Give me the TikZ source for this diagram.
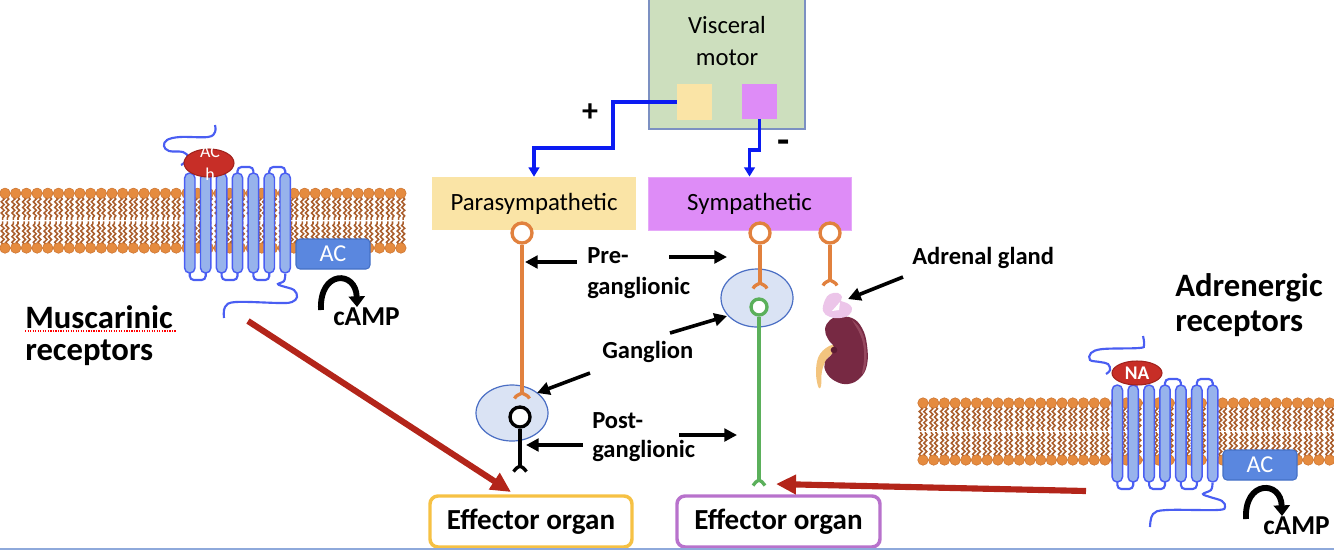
\documentclass[tikz,border=0pt]{standalone}
\usepackage{fontspec}
\setmainfont{Carlito}
\usetikzlibrary{arrows.meta,decorations.pathmorphing,shapes.geometric,calc}
\definecolor{vmgreen}{HTML}{CDDFBE}
\definecolor{vmborder}{HTML}{7C90C2}
\definecolor{paray}{HTML}{FAE4A6}
\definecolor{sympp}{HTML}{DE8CF7}
\definecolor{bluecon}{HTML}{0B1BF2}
\definecolor{neuror}{HTML}{E1813E}
\definecolor{neurog}{HTML}{5BB05B}
\definecolor{gangfill}{HTML}{DAE3F4}
\definecolor{gangdraw}{HTML}{4A6EC4}
\definecolor{effy}{HTML}{F6C144}
\definecolor{effp}{HTML}{B872CC}
\definecolor{redarr}{HTML}{B3251A}
\definecolor{headc}{HTML}{E58B3F}
\definecolor{headd}{HTML}{CC7431}
\definecolor{tailc}{HTML}{A95D2B}
\definecolor{helixf}{HTML}{97B3EC}
\definecolor{helixd}{HTML}{4A5EF2}
\definecolor{ligand}{HTML}{C72E27}
\definecolor{ligandd}{HTML}{A1221D}
\definecolor{acfill}{HTML}{5A87DF}
\definecolor{acdraw}{HTML}{4470C6}
\definecolor{adrpink}{HTML}{ECC5E9}
\definecolor{kidney}{HTML}{772943}
\definecolor{kidneyl}{HTML}{95485F}
\definecolor{kidneyd}{HTML}{5E1C33}
\definecolor{ureter}{HTML}{F3C47E}
\definecolor{bottomline}{HTML}{8EA9DB}

\newcommand\bilayer[4]{%
  \foreach \i in {0,...,#2}{%
    \pgfmathsetmacro\hx{#1+\i*10.7}%
    \pgfmathsetmacro\hm{(#3+#4)/2}%
    \draw[tailline] ({\hx-2.3},{#3+4}) -- ({\hx-2.3},{\hm-0.7});
    \draw[tailline] ({\hx+2.3},{#3+4}) -- ({\hx+2.3},{\hm-0.7});
    \draw[tailline] ({\hx-2.3},{#4-4}) -- ({\hx-2.3},{\hm+0.7});
    \draw[tailline] ({\hx+2.3},{#4-4}) -- ({\hx+2.3},{\hm+0.7});
  }%
  \foreach \i in {0,...,#2}{%
    \pgfmathsetmacro\hx{#1+\i*10.7}%
    \filldraw[headball] (\hx,#3) circle[radius=3.95pt];
    \filldraw[headball] (\hx,#4) circle[radius=3.95pt];
  }%
}
\newcommand\receptor[3]{%
  \foreach \a/\b in {3/4,5/6}{%
    \draw[loopline] ({#1+\a*15.9},{#2+4}) -- ({#1+\a*15.9},{#2-6}) -- ({#1+\b*15.9},{#2-6}) -- ({#1+\b*15.9},{#2+4});
  }%
  \foreach \a/\b in {0/1,2/3,4/5}{%
    \draw[loopline] ({#1+\a*15.9},{#3-4}) -- ({#1+\a*15.9},{#3+7}) -- ({#1+\b*15.9},{#3+7}) -- ({#1+\b*15.9},{#3-4});
  }%
  \foreach \k in {0,...,6}{%
    \draw[helix] ({#1+\k*15.9-5.2},#2) rectangle ({#1+\k*15.9+5.2},#3);
  }%
}
\newcommand\synfork[3]{%
  \draw[axon,#3] ($(#1)+(-#2,5.5)$) .. controls ($(#1)+(-#2+1.2,2.2)$) and ($(#1)+(-1.5,1.2)$) .. (#1)
     .. controls ($(#1)+(1.5,1.2)$) and ($(#1)+(#2-1.2,2.2)$) .. ($(#1)+(#2,5.5)$);%
}

\begin{document}
\begin{tikzpicture}[x=0.75pt,y=-0.75pt,
  tailline/.style={draw=tailc, line width=1.15pt, decorate, decoration={snake, amplitude=1.1pt, segment length=4.2pt}},
  headball/.style={fill=headc, draw=headd, line width=0.4pt},
  helix/.style={fill=helixf, draw=helixd, line width=1.1pt, rounded corners=3.8pt},
  loopline/.style={draw=helixd, line width=1.6pt, rounded corners=3pt},
  termline/.style={draw=helixd, line width=1.6pt},
  ligandnode/.style={ellipse, fill=ligand, draw=ligandd, line width=0.8pt, inner sep=0pt, text=white},
  acbox/.style={rectangle, rounded corners=3pt, fill=acfill, draw=acdraw, line width=0.8pt, text=white, font=\fontsize{18.2}{20}\selectfont, minimum width=55.5pt, minimum height=22.5pt, inner sep=0pt},
  camparr/.style={line width=4.4pt, -{Triangle[length=8pt,width=12pt]}},
  camptext/.style={font=\bfseries\fontsize{20.5}{22}\selectfont, inner sep=0pt, anchor=base west},
  biglabel/.style={font=\bfseries\fontsize{24.5}{29}\selectfont, inner sep=0pt, anchor=base west},
  midlabel/.style={font=\bfseries\fontsize{18.4}{22}\selectfont, inner sep=0pt, anchor=base west},
  blackarr/.style={line width=2.7pt, -{Triangle[length=9.5pt,width=9.5pt]}},
  redarrow/.style={draw=redarr, line width=4.6pt, -{Triangle[length=15pt,width=14pt]}},
  blueconn/.style={draw=bluecon, line width=2.4pt, -{Triangle[length=7pt,width=8pt]}},
  sysbox/.style={rectangle, inner sep=0pt, minimum height=39.75pt, font=\fontsize{18.6}{22}\selectfont},
  effbox/.style={rectangle, rounded corners=6pt, line width=2.6pt, fill=white, minimum width=151.5pt, minimum height=38.25pt, inner sep=0pt, font=\bfseries\fontsize{21.8}{24}\selectfont},
  ganglion/.style={ellipse, fill=gangfill, draw=gangdraw, line width=0.9pt, inner sep=0pt, minimum width=54pt},
  soma/.style={circle, fill=white, line width=2.5pt, inner sep=0pt},
  axon/.style={line width=2.5pt},
  vmtext/.style={font=\fontsize{18.5}{22}\selectfont, inner sep=0pt, anchor=base},
]
\useasboundingbox (0,0) rectangle (1334,551);

% ---------------- membranes and receptors
\bilayer{5}{37}{193.3}{248}
\bilayer{923}{39}{403}{460}

\draw[termline] plot[smooth, tension=0.6] coordinates {(215,125) (215,132) (208,137) (180,137) (167,140) (164,146) (169,151) (183,152) (188,157) (184,163) (181,165)};
\draw[termline] plot[smooth, tension=0.6] coordinates {(285.3,274) (284,281) (278,284) (282,286) (294,290) (297,297) (292,302) (280,303) (236,302) (225,307) (224,318)};
\receptor{189.8}{173}{273}

\draw[termline] plot[smooth, tension=0.6] coordinates {(1143,336) (1144,345) (1139,348) (1103,349) (1091,353) (1090,360) (1100,362) (1108,364) (1110,370) (1106,374)};
\draw[termline] plot[smooth, tension=0.6] coordinates {(1212.5,483) (1211,490) (1203,494) (1210,497) (1222,501) (1225,507) (1217,510) (1167,510) (1153,514) (1150,527)};
\receptor{1117.3}{385}{482}

\node[ligandnode, minimum width=37.5pt, minimum height=21pt] (ach) at (209,163) {};
\node[font=\fontsize{13.5}{17}\selectfont, text=white, align=center, inner sep=0pt] (achtext) at (210,163) {AC\\h};
\node[ligandnode, minimum width=37.5pt, minimum height=18pt, font=\bfseries\fontsize{14.5}{16}\selectfont] (na) at (1137,373) {NA};

\node[acbox] (ac1) at (333,254) {AC};
\node[acbox] (ac2) at (1260,465) {AC};

\coordinate (camp1s) at (321,310);
\coordinate (camp1e) at (357,307);
\draw[camparr] (camp1s) .. controls (319,270) and (356,270) .. (camp1e);
\node[camptext] (camp1) at (333,325) {cAMP};
\coordinate (camp2s) at (1246,519);
\coordinate (camp2e) at (1282,516);
\draw[camparr] (camp2s) .. controls (1244,480) and (1281,480) .. (camp2e);
\node[camptext] (camp2) at (1263,534) {cAMP};

\node[biglabel] (mus1) at (25,328) {Muscarinic};
\node[biglabel] (mus2) at (25,360) {receptors};
\draw[red, densely dotted, line width=0.9pt] (25,331) -- (176,331);
\node[biglabel] (adr1) at (1175,296) {Adrenergic};
\node[biglabel] (adr2) at (1175,331) {receptors};

% ---------------- control
\node[rectangle, fill=vmgreen, draw=vmborder, line width=1.1pt, minimum width=117pt, minimum height=100.5pt] (vm) at (727,62) {};
\node[vmtext] (vm1) at (727,33) {Visceral};
\node[vmtext] (vm2) at (727,65) {motor};
\node[rectangle, fill=paray, minimum size=26.5pt, inner sep=0pt] (sqy) at (694.5,102) {};
\node[rectangle, fill=sympp, minimum size=26.5pt, inner sep=0pt] (sqp) at (759.5,101.5) {};

\node[sysbox, fill=paray, minimum width=153pt] (para) at (534,203.5) {Parasympathetic};
\node[sysbox, fill=sympp, draw=sympp!75!white, line width=0.6pt, minimum width=152.25pt] (symp) at (749.5,203.5) {Sympathetic};

\coordinate (bc1) at (613,148);
\coordinate (bc2) at (749.5,150);
\draw[blueconn] (sqy.west) -| (bc1) -| (para.north);
\draw[blueconn] (sqp.south) |- (bc2) -- (symp.north);
\node[font=\bfseries\fontsize{24}{26}\selectfont, inner sep=0pt] (plus) at (590,113) {+};
\node[font=\bfseries\fontsize{30}{30}\selectfont, inner sep=0pt] (minus) at (784,147) {-};

% ---------------- neurons
\node[ganglion, minimum height=42pt] (g1) at (512,413) {};
\node[ganglion, minimum height=43.5pt] (g2) at (757,298) {};

\node[soma, draw=neuror, minimum size=15pt] (ps) at (522,233) {};
\coordinate (pt) at (522,393);
\draw[axon, neuror] (ps.south) -- (pt);
\synfork{pt}{7.5}{neuror}

\node[soma, draw=black, minimum size=15pt] (bs) at (520,417) {};
\coordinate (bt) at (520,466);
\draw[axon, black] (bs.south) -- (bt);
\synfork{bt}{6.5}{black}

\node[soma, draw=neuror, minimum size=15pt] (ss1) at (760,233) {};
\coordinate (st1) at (760,283);
\draw[axon, neuror] (ss1.south) -- (st1);
\synfork{st1}{7}{neuror}

\node[soma, draw=neurog, minimum size=12pt] (gs) at (759,307) {};
\coordinate (gt) at (759,480);
\draw[axon, neurog] (gs.south) -- (gt);
\synfork{gt}{6}{neurog}

\node[soma, draw=neuror, minimum size=15pt] (ss2) at (830,233) {};
\coordinate (st2) at (830,280);
\draw[axon, neuror] (ss2.south) -- (st2);
\synfork{st2}{7}{neuror}

% ---------------- adrenal gland and kidney
\fill[ureter] plot[smooth cycle, tension=0.7] coordinates {(832,345) (835,351) (827,359) (822,371) (821,386) (818,386) (816,370) (820,354)};
\fill[kidney] plot[smooth cycle, tension=0.7] coordinates {(838,317) (852,318) (862,328) (867,345) (867,365) (860,378) (848,384) (835,381) (826,372) (825,362) (832,354) (834,347) (828,339) (825,329) (830,320)};
\fill[kidneyl] plot[smooth, tension=0.7] coordinates {(852,320) (861,330) (866,347) (866,365) (862,374) (864,360) (863,343) (858,330)} -- cycle;
\fill[kidneyd] (834,350) circle[radius=2.5pt];
\fill[adrpink] plot[smooth cycle, tension=0.7] coordinates {(825,300) (830,294) (838,293) (842,297) (841,301) (847,303) (852,308) (849,315) (840,318) (830,317) (823,311)};
\fill[white] (832,311) -- (840,302) -- (839,310) -- cycle;

% ---------------- labels and arrows
\node[midlabel] (pre1) at (587,263) {Pre-};
\node[midlabel] (pre2) at (587,294) {ganglionic};
\node[midlabel] (gang) at (602,358) {Ganglion};
\node[midlabel] (post1) at (592,428) {Post-};
\node[midlabel] (post2) at (592,457) {ganglionic};
\node[midlabel] (adrg) at (912,264) {Adrenal gland};

\coordinate (a1s) at (577,262);  \coordinate (a1e) at (525,262);
\coordinate (a2s) at (669,257);  \coordinate (a2e) at (727,257);
\coordinate (a3s) at (670,333);  \coordinate (a3e) at (727,316);
\coordinate (a4s) at (590,373);  \coordinate (a4e) at (537,393);
\coordinate (a5s) at (583,445);  \coordinate (a5e) at (526,445);
\coordinate (a6s) at (679,435);  \coordinate (a6e) at (737,435);
\coordinate (a7s) at (903,277);  \coordinate (a7e) at (848,299);
\foreach \n in {1,...,7}{\draw[blackarr] (a\n s) -- (a\n e);}

\node[effbox, draw=effy] (eff1) at (531,521.5) {Effector organ};
\node[effbox, draw=effp, minimum width=152.25pt] (eff2) at (778.5,521.5) {Effector organ};

\coordinate (r1s) at (248,321);
\coordinate (r1e) at (511,492);
\draw[redarrow] (r1s) -- (r1e);
\coordinate (r2s) at (1086,491);
\coordinate (r2e) at (776,484);
\draw[redarrow] (r2s) -- (r2e);

\draw[bottomline, line width=1.5pt] (0,548.5) -- (1334,548.5);
\end{tikzpicture}
\end{document}
